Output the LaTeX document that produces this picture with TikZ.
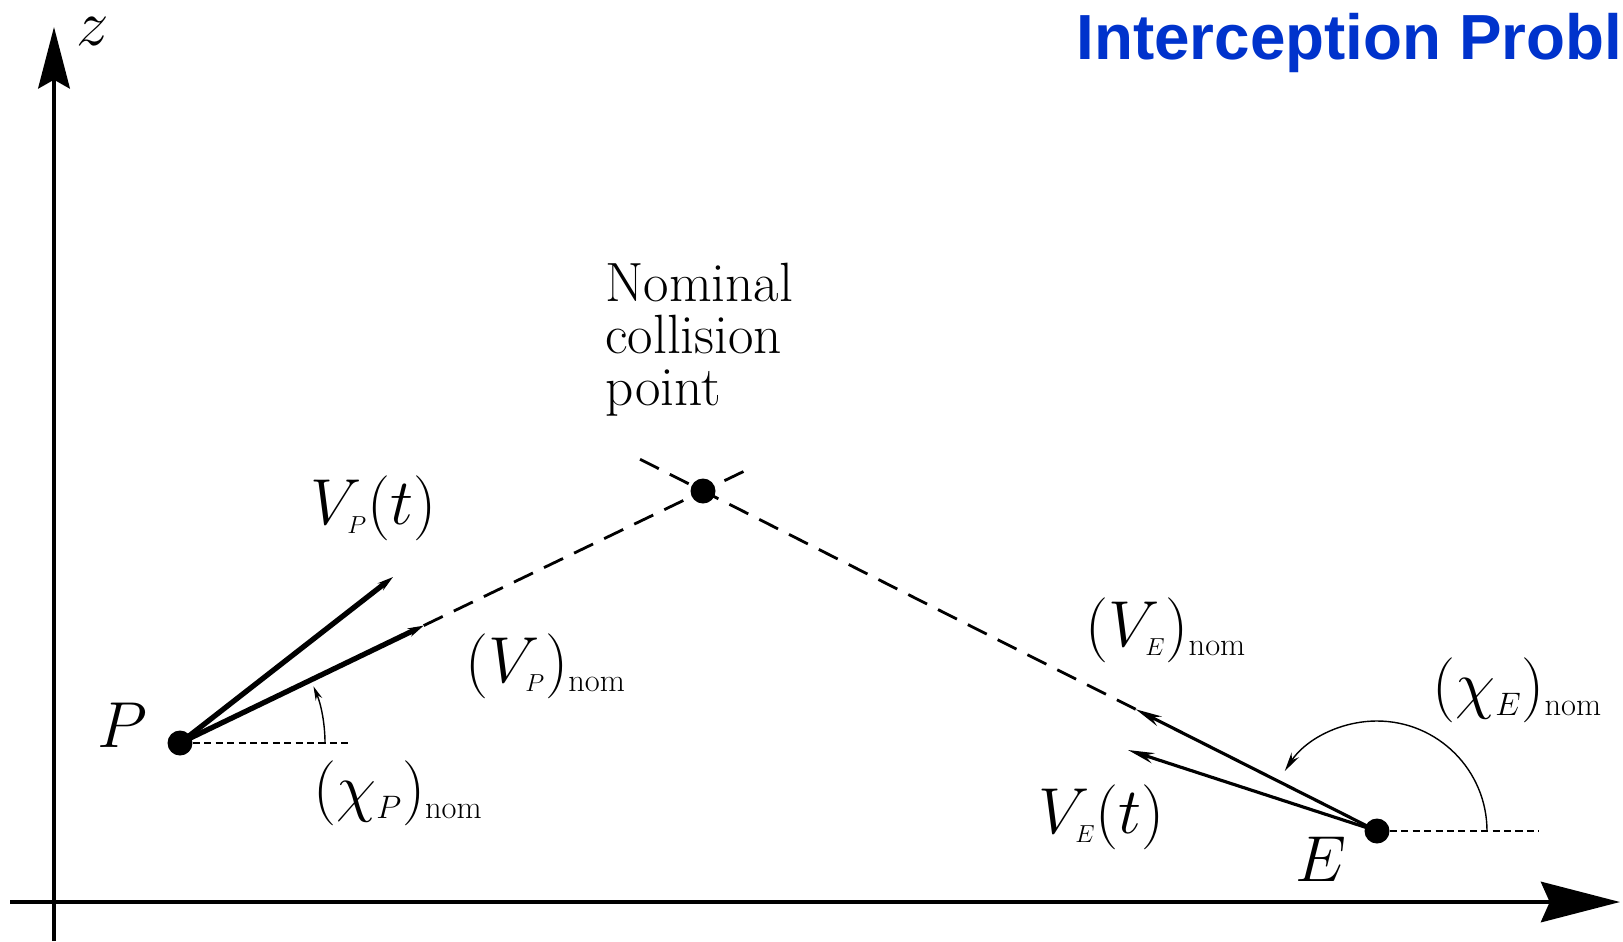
\RequirePackage{fix-cm}
\documentclass[tikz,border=0pt]{standalone}
\usepackage{amsmath}
\usepackage{fontspec}
\newfontfamily\headfont{Liberation Sans}
\usetikzlibrary{calc, positioning}
\usetikzlibrary{arrows.meta}
\definecolor{titleblue}{RGB}{0,51,204}
\newcommand{\smallsub}[1]{\mbox{\fontsize{14}{14}\selectfont$#1$}}
\tikzset{
  axisline/.style={line width=2.3pt},
  dot/.style={circle, fill, inner sep=0pt, minimum size=0.5cm},
  nomline/.style={dash pattern=on 12pt off 7pt, line width=1.6pt},
  refline/.style={dash pattern=on 4pt off 2.5pt, line width=0.8pt},
  lbl/.style={inner sep=0pt, font=\fontsize{37}{44}\selectfont},
}

\begin{document}
\begin{tikzpicture}[x=0.02cm, y=0.02cm]
\useasboundingbox (0,0) rectangle (1623,-941);

\coordinate (O1) at (54,-941);
\coordinate (Ztip) at (54,-27);
\coordinate (O2) at (10,-902);
\coordinate (Xtip) at (1620,-902);

\draw[axisline, -{Stealth[length=35pt, width=18pt, inset=5pt]}] (O1) -- (Ztip);
\draw[axisline, -{Stealth[length=45pt, width=23pt, inset=5pt]}] (O2) -- (Xtip);

\node[dot] (P) at (180,-743) {};
\node[dot] (C) at (703,-491) {};
\node[dot] (E) at (1377,-831) {};

\coordinate (VPnom) at ($(P.center)!0.466!(C.center)$);
\coordinate (VPfar) at ($(P.center)!1.095!(C.center)$);
\coordinate (VEnom) at ($(E.center)!0.358!(C.center)$);
\coordinate (VEfar) at ($(E.center)!1.098!(C.center)$);
\coordinate (VPt) at (393,-577);
\coordinate (VEt) at (1128,-750);
\coordinate (Pref) at (349,-743);
\coordinate (Eref) at (1539,-831);

\draw[nomline] (VPnom) -- (VPfar);
\draw[nomline] (VEnom) -- (VEfar);
\draw[refline] (P) -- (Pref);
\draw[refline] (E) -- (Eref);

\draw[line width=3pt, -{Stealth[length=9pt, width=5pt]}] (P.center) -- (VPnom);
\draw[line width=3pt, -{Stealth[length=9pt, width=5pt]}] (P.center) -- (VPt);
\draw[line width=1.8pt, -{Stealth[length=15pt, width=6pt]}] (E.center) -- (VEnom);
\draw[line width=1.8pt, -{Stealth[length=15pt, width=6pt]}] (E.center) -- (VEt);

\draw[line width=0.8pt, -{Stealth[length=8pt, width=4pt]}] ($(P.center)+(145,0)$)
  arc[start angle=0, end angle=23, radius=145];
\draw[line width=0.8pt, -{Stealth[length=11pt, width=5pt]}] ($(E.center)+(110,0)$)
  arc[start angle=0, end angle=147, radius=110];

\node[lbl, anchor=base] (zlab) at (93,-45) {$z$};
\node[lbl, anchor=base] (Plab) at (122,-747) {$P$};
\node[lbl, anchor=base] (Elab) at (1321,-881) {$E$};
\node[lbl, anchor=base west] (VPtlab) at (310,-524) {$V_{\smallsub{P}}(t)$};
\node[lbl, anchor=base west] (VPnomlab) at (465,-682)
  {$(V_{\smallsub{P}})_{\scriptscriptstyle\mathrm{nom}}$};
\node[lbl, anchor=base west] (chiPlab) at (313,-809)
  {$(\chi_{\scriptscriptstyle P})_{\scriptscriptstyle\mathrm{nom}}$};
\node[lbl, anchor=base west] (VEnomlab) at (1085,-646)
  {$(V_{\smallsub{E}})_{\scriptscriptstyle\mathrm{nom}}$};
\node[lbl, anchor=base west] (chiElab) at (1432,-706)
  {$(\chi_{\scriptscriptstyle E})_{\scriptscriptstyle\mathrm{nom}}$};
\node[lbl, anchor=base west] (VEtlab) at (1038,-833) {$V_{\smallsub{E}}(t)$};

\node[align=left, anchor=north west, inner sep=0pt, font=\fontsize{31.5}{29.5}\selectfont]
  (Clab) at (605,-263) {Nominal\\collision\\point};
\node[anchor=base west, inner sep=0pt, text=titleblue,
  font=\headfont\bfseries\fontsize{36.3}{40}\selectfont]
  (title) at (1076,-59) {Interception Probl};
\end{tikzpicture}
\end{document}
